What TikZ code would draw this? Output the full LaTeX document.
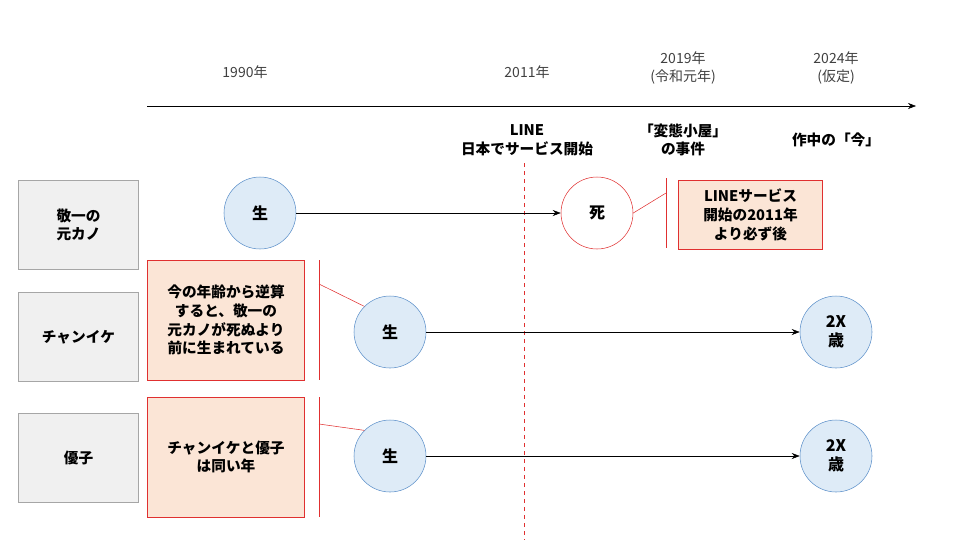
\documentclass[tikz,border=0pt]{standalone}
\usepackage{fontspec}
\setmainfont{Noto Sans CJK JP}
\usetikzlibrary{arrows.meta,positioning}
\definecolor{circfill}{HTML}{DEEBF7}
\definecolor{circline}{HTML}{5B8FC9}
\definecolor{notefill}{HTML}{FBE5D6}
\definecolor{redline}{HTML}{E03030}
\begin{document}
\begin{tikzpicture}[x=0.75pt, y=-0.75pt, every text node part/.style={align=center},
  person/.style={draw=gray!70, fill=gray!12, minimum width=90pt, minimum height=67pt, font=\bfseries\fontsize{11}{14}\selectfont},
  life/.style={circle, draw=circline, fill=circfill, minimum size=54pt, inner sep=0pt, font=\bfseries\fontsize{12}{14}\selectfont},
  dead/.style={life, draw=redline, fill=white},
  note/.style={draw=redline, fill=notefill, font=\bfseries\fontsize{11}{14}\selectfont},
  year/.style={text=black!75, font=\fontsize{10.5}{13}\selectfont},
  event/.style={font=\bfseries\fontsize{11}{14}\selectfont},
  span/.style={-{Stealth[length=6pt]}, thin},
  callout/.style={redline, thin}]
\useasboundingbox (0,0) rectangle (960,540);
% time axis
\coordinate (t0) at (147,106);
\coordinate (t1) at (916,106);
\draw[span] (t0) -- (t1);
\node[year] (y1990) at (245,72) {1990年};
\node[year] (y2011) at (527,72) {2011年};
\node[year] (y2019) at (683,68) {2019年\\(令和元年)};
\node[year] (y2024) at (836,68) {2024年\\(仮定)};
\node[event] (eLine) at (527,140) {LINE\\日本でサービス開始};
\node[event] (eCase) at (683,140) {「変態小屋」\\の事件};
\node[event] (eNow) at (836,140) {作中の「今」};
% 2011 marker
\coordinate (m0) at (524,163);
\coordinate (m1) at (524,540);
\draw[redline, dashed] (m0) -- (m1);
% people
\node[person] (ex) at (78.5,225) {敬一の\\元カノ};
\node[person] (chan) at (78.5,337) {チャンイケ};
\node[person] (yuko) at (78.5,457.5) {優子};
% lives
\node[life] (exB) at (260,213) {生};
\node[dead] (exD) at (597,213) {死};
\node[life] (chanB) at (390,332) {生};
\node[life] (chanN) at (836,332) {2X\\歳};
\node[life] (yukoB) at (390,456) {生};
\node[life] (yukoN) at (836,456) {2X\\歳};
\draw[span] (exB) -- (exD);
\draw[span] (chanB) -- (chanN);
\draw[span] (yukoB) -- (yukoN);
% notes
\node[note, minimum width=108pt, minimum height=52pt] (n1) at (750.5,215) {LINEサービス\\開始の2011年\\より必ず後};
\node[note, minimum width=118pt, minimum height=90pt] (n2) at (226,320) {今の年齢から逆算\\すると、敬一の\\元カノが死ぬより\\前に生まれている};
\node[note, minimum width=118pt, minimum height=90pt] (n3) at (226,457) {チャンイケと優子\\は同い年};
% callouts
\coordinate (c1a) at (666,178); \coordinate (c1b) at (666,248); \coordinate (c1m) at (666,193);
\draw[callout] (c1a) -- (c1b);
\draw[callout] (c1m) -- (exD.east);
\coordinate (c2a) at (319,260); \coordinate (c2b) at (319,380); \coordinate (c2m) at (319,284);
\draw[callout] (c2a) -- (c2b);
\draw[callout] (c2m) -- (chanB.north west);
\coordinate (c3a) at (319,397); \coordinate (c3b) at (319,517); \coordinate (c3m) at (319,424);
\draw[callout] (c3a) -- (c3b);
\draw[callout] (c3m) -- (yukoB.north west);
\end{tikzpicture}
\end{document}
